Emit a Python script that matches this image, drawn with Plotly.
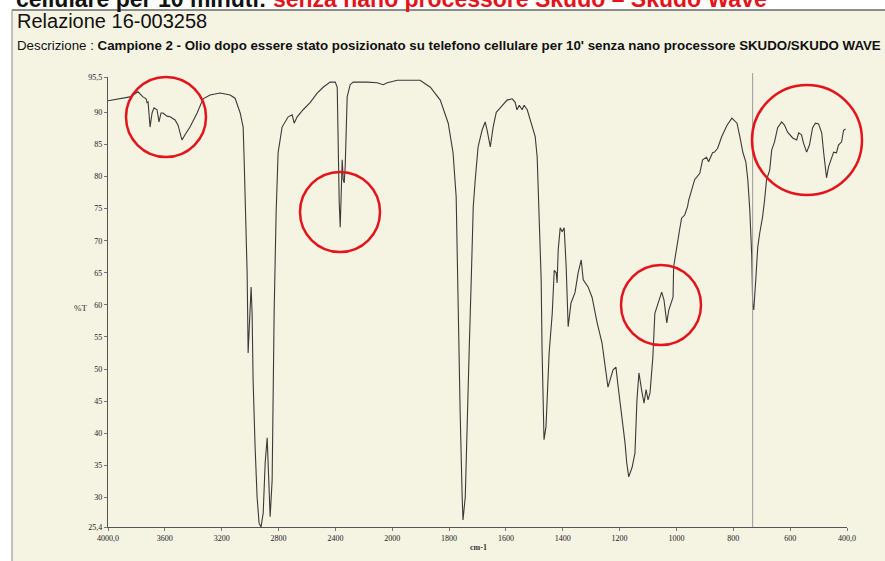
import plotly.graph_objects as go

# ---------------- data ----------------
WAVENUMBER = [
    4000, 3845, 3789, 3754, 3732, 3725, 3718, 3704, 3690, 3676, 3655, 3641, 3627, 3613,
    3585, 3563, 3528, 3507, 3486, 3479, 3458, 3423, 3373, 3331, 3282, 3211, 3141, 3106,
    3070, 3049, 3042, 3035, 3021, 3014, 2993, 2986, 2979, 2965, 2951, 2937, 2923, 2908,
    2894, 2880, 2873, 2859, 2845, 2838, 2831, 2817, 2803, 2775, 2754, 2732, 2704, 2690,
    2669, 2627, 2578, 2528, 2486, 2437, 2401, 2387, 2384, 2380, 2373, 2366, 2359, 2352,
    2345, 2338, 2331, 2324, 2317, 2296, 2275, 2176, 2106, 2063, 2035, 1982, 1902, 1866,
    1831, 1803, 1786, 1775, 1768, 1761, 1754, 1751, 1743, 1736, 1729, 1722, 1715, 1708,
    1698, 1684, 1673, 1666, 1655, 1645, 1634, 1620, 1596, 1578, 1568, 1561, 1553, 1543,
    1536, 1525, 1511, 1497, 1490, 1483, 1476, 1473, 1469, 1466, 1459, 1455, 1448, 1437,
    1430, 1423, 1420, 1416, 1409, 1402, 1395, 1388, 1381, 1371, 1357, 1346, 1335, 1328,
    1311, 1297, 1279, 1262, 1251, 1241, 1223, 1213, 1205, 1191, 1181, 1175, 1168, 1156,
    1146, 1139, 1132, 1121, 1114, 1107, 1100, 1093, 1083, 1076, 1069, 1052, 1044, 1034,
    1027, 1012, 1010, 999, 989, 982, 971, 961, 957, 936, 918, 908, 894, 887, 873, 866,
    855, 841, 822, 805, 787, 777, 766, 756, 749, 742, 735, 732, 728, 721, 714, 707, 697,
    690, 683, 672, 665, 655, 644, 630, 620, 609, 591, 577, 570, 560, 553, 542, 532, 521,
    511, 500, 489, 482, 472, 465, 454, 447, 437, 430, 419, 412, 405,
]
TRANSMITTANCE = [
    91.8, 92.4, 93.2, 92.4, 92.1, 91.5, 91.6, 87.7, 89.9, 90.7, 90.4, 88.5, 89.9, 89.9,
    89.4, 89.3, 88.8, 88.0, 86.2, 85.7, 86.5, 87.7, 89.9, 92.1, 92.7, 93.0, 92.7, 92.2,
    89.9, 87.7, 82.6, 76.8, 65.0, 52.5, 62.8, 58.7, 48.3, 37.9, 30.1, 26.0, 25.4, 27.6,
    35.4, 39.3, 35.4, 27.0, 32.7, 48.3, 58.7, 74.3, 83.7, 87.7, 88.5, 89.3, 89.6, 88.3,
    89.3, 90.4, 91.5, 93.0, 93.9, 94.7, 94.7, 93.9, 89.9, 82.1, 75.9, 72.1, 77.9, 82.6,
    79.5, 79.0, 81.5, 87.2, 92.4, 94.3, 94.7, 94.7, 94.6, 94.3, 94.6, 95.0, 95.0, 93.9,
    91.9, 88.3, 83.7, 76.8, 58.7, 43.2, 30.1, 26.5, 30.1, 43.2, 53.4, 63.9, 75.3, 79.5,
    84.6, 87.2, 88.5, 87.2, 84.6, 87.7, 90.0, 90.7, 91.9, 92.1, 91.6, 90.4, 91.1, 90.4,
    91.1, 90.4, 88.3, 86.2, 83.0, 74.3, 63.9, 53.4, 43.2, 39.0, 41.0, 45.7, 52.5, 58.7,
    65.4, 65.0, 63.4, 68.6, 72.0, 71.4, 72.0, 65.9, 56.6, 60.3, 61.9, 65.0, 67.0, 63.9,
    62.8, 61.2, 57.2, 54.1, 50.3, 47.2, 49.9, 50.3, 47.2, 42.5, 38.5, 35.4, 33.2, 34.7,
    36.9, 45.2, 49.4, 46.3, 44.7, 46.8, 45.2, 46.3, 51.9, 58.7, 59.7, 62.0, 60.8, 57.2,
    59.2, 61.2, 65.9, 68.6, 71.7, 73.5, 74.0, 75.3, 76.3, 79.5, 80.5, 82.6, 83.0, 82.3,
    83.7, 83.8, 84.4, 86.2, 88.0, 89.1, 88.3, 86.2, 83.7, 82.3, 79.5, 74.8, 67.5, 60.3,
    59.2, 63.9, 69.0, 71.2, 73.7, 76.3, 79.5, 81.0, 84.1, 85.4, 87.6, 88.5, 88.0, 86.9,
    86.0, 85.7, 86.8, 86.5, 85.2, 83.8, 84.9, 87.6, 88.3, 88.2, 86.8, 83.7, 79.8, 81.5,
    83.0, 83.8, 83.7, 84.9, 85.4, 87.2, 87.4,
]
X_TICKS = [4000, 3600, 3200, 2800, 2400, 2000, 1800, 1600, 1400, 1200, 1000, 800, 600, 400]
X_TICK_LABELS = ["4000,0", "3600", "3200", "2800", "2400", "2000", "1800", "1600",
                 "1400", "1200", "1000", "800", "600", "400,0"]
Y_TICKS = [95.5, 90, 85, 80, 75, 70, 65, 60, 55, 50, 45, 40, 35, 30, 25.4]
Y_TICK_LABELS = ["95,5", "90", "85", "80", "75", "70", "65", "60", "55", "50", "45",
                 "40", "35", "30", "25,4"]
MARKER_WN = 732

TITLE = "Relazione 16-003258"
DESC_LABEL = "Descrizione : "
DESC_TEXT = ("Campione 2 - Olio dopo essere stato posizionato su telefono cellulare per 10' "
             "senza nano processore SKUDO/SKUDO WAVE")
TOP_BLACK = "cellulare per 10 minuti: "
TOP_RED = "senza nano processore Skudo \u2013 Skudo Wave"


# spectrometer chart: scale doubles below 2000 cm-1
def axis_pos(wn):
    return (4000 - wn) / 2.0 if wn >= 2000 else 1000.0 + (2000 - wn)


# ---------------- layout geometry (window pixels) ----------------
WIN_W, WIN_H = 885, 561
PL, PR, PT, PB = 108, 847, 77, 527
CREAM = "rgb(245,243,226)"
INK = "#3a3a3a"
RED = "#e3141b"


def fx(px):
    return (px - PL) / (PR - PL)


def fy(py):
    return (PB - py) / (PB - PT)


fig = go.Figure()
fig.add_trace(go.Scatter(
    x=[axis_pos(w) for w in WAVENUMBER], y=TRANSMITTANCE, mode="lines",
    line=dict(color=INK, width=1.1), hoverinfo="skip", showlegend=False,
))

shapes = [
    dict(type="rect", xref="paper", yref="paper", x0=fx(12), x1=fx(WIN_W + 2), y0=fy(10),
         y1=fy(WIN_H + 2), fillcolor=CREAM, line=dict(width=0), layer="below"),
    dict(type="line", xref="paper", yref="paper", x0=fx(12), x1=fx(WIN_W + 2), y0=fy(10),
         y1=fy(10), line=dict(color="#6a6a6a", width=1.5)),
    dict(type="line", xref="paper", yref="paper", x0=fx(12), x1=fx(12), y0=fy(10),
         y1=fy(WIN_H + 2), line=dict(color="#8a8a8a", width=1)),
    dict(type="line", xref="x", yref="paper", x0=axis_pos(MARKER_WN), x1=axis_pos(MARKER_WN),
         y0=0, y1=fy(73), line=dict(color="#9a9a9a", width=1)),
]
for cx, cy, r in [(166, 117, 40), (340, 212, 40), (661, 305, 40), (807, 140, 55)]:
    shapes.append(dict(type="circle", xref="paper", yref="paper",
                       x0=fx(cx - r), x1=fx(cx + r), y0=fy(cy + r), y1=fy(cy - r),
                       line=dict(color=RED, width=2.5)))

annotations = [
    dict(xref="paper", yref="paper", x=fx(14), y=fy(-1), xanchor="left", yanchor="middle",
         text=f"<b>{TOP_BLACK}<span style='color:{RED}'>{TOP_RED}</span></b>",
         showarrow=False, font=dict(family="Liberation Sans, Arial", size=23, color="#111")),
    dict(xref="paper", yref="paper", x=fx(15), y=fy(21), xanchor="left", yanchor="middle",
         text=TITLE, showarrow=False,
         font=dict(family="Liberation Sans, Arial", size=20, color="#111")),
    dict(xref="paper", yref="paper", x=fx(15), y=fy(46), xanchor="left", yanchor="middle",
         text=f"{DESC_LABEL}<b>{DESC_TEXT}</b>", showarrow=False,
         font=dict(family="Liberation Sans, Arial", size=13.3, color="#111")),
    dict(xref="paper", yref="paper", x=fx(80), y=fy(308), xanchor="center", yanchor="middle",
         text="%T", showarrow=False,
         font=dict(family="Liberation Serif, Times New Roman", size=9, color="#333")),
    dict(xref="paper", yref="paper", x=fx(478), y=fy(547), xanchor="center", yanchor="middle",
         text="<b>cm-1</b>", showarrow=False,
         font=dict(family="Liberation Serif, Times New Roman", size=8, color="#333")),
]

fig.update_layout(
    width=WIN_W, height=WIN_H, autosize=False,
    margin=dict(l=PL, r=WIN_W - PR, t=PT, b=WIN_H - PB, pad=0),
    paper_bgcolor="white", plot_bgcolor=CREAM,
    shapes=shapes, annotations=annotations,
    xaxis=dict(range=[axis_pos(4000), axis_pos(400)], tickvals=[axis_pos(v) for v in X_TICKS],
               ticktext=X_TICK_LABELS, showgrid=False, zeroline=False, showline=True,
               linecolor="#555", linewidth=1.2, ticks="outside", ticklen=3, tickcolor="#777",
               tickfont=dict(family="Liberation Serif, Times New Roman", size=8, color="#222")),
    yaxis=dict(range=[25.4, 95.5], tickvals=Y_TICKS, ticktext=Y_TICK_LABELS, showgrid=False,
               zeroline=False, showline=True, linecolor="#555", linewidth=1.2, ticks="outside",
               ticklen=3, tickcolor="#777",
               tickfont=dict(family="Liberation Serif, Times New Roman", size=8, color="#222")),
)

# the page is photographed at the window's top-left corner: drop the default body margin
fig.write_html("out.html", config={"displayModeBar": False},
               post_script="document.body.style.margin='0';document.body.style.overflow='hidden';")
